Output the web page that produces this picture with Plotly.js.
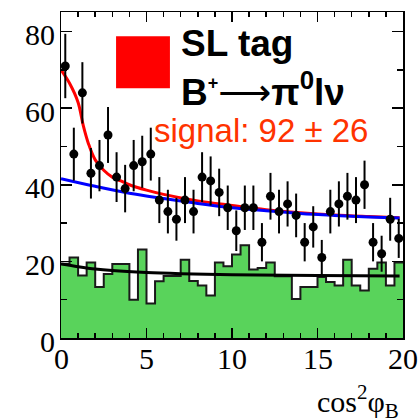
<!DOCTYPE html>
<html>
<head>
<meta charset="utf-8">
<script src="https://cdn.plot.ly/plotly-3.0.1.min.js"></script>
<style>
html,body{margin:0;padding:0;background:#fff;}
#chart{width:419px;height:420px;}
</style>
</head>
<body>
<div id="chart"></div>
<script>
// ---- data ----
const binWidth = 0.5;
const binCenters = [0.25,0.75,1.25,1.75,2.25,2.75,3.25,3.75,4.25,4.75,
                    5.25,5.75,6.25,6.75,7.25,7.75,8.25,8.75,9.25,9.75,
                    10.25,10.75,11.25,11.75,12.25,12.75,13.25,13.75,14.25,14.75,
                    15.25,15.75,16.25,16.75,17.25,17.75,18.25,18.75,19.25,19.75];
const dataCounts = [71,48,64,43,45,53,42,39,45,46,
                    48,36,33,31,36,33,42,41,38,34,
                    28,34,34,25,37,33,35,32,25,29,
                    21,33,35,37,36,40,25,22,31,26];
const dataErrors = [8.4,6.9,8.0,6.6,6.7,7.3,6.5,6.2,6.7,6.8,
                    6.9,6.0,5.7,5.6,6.0,5.7,6.5,6.4,6.2,5.8,
                    5.3,5.8,5.8,5.0,6.1,5.7,5.9,5.7,5.0,5.4,
                    4.6,5.7,5.9,6.1,6.0,6.3,5.0,4.7,5.6,5.1];
const bkgHist = [19.4,21.0,16.3,19.7,13.3,16.7,19.3,19.3,10.0,23.1,
                 9.0,14.8,16.2,16.2,20.4,14.9,13.7,11.1,19.7,18.7,
                 21.8,24.2,17.9,18.3,19.7,16.1,16.1,10.2,13.3,13.3,
                 15.9,14.6,13.7,20.4,13.7,12.4,18.1,19.7,13.7,19.7];
// fitted curves
const totalFitX = [0,0.5,1,1.3,1.6,2,2.5,3,3.5,4,5,6,8,10,12,14,16,18,19.8];
const totalFitY = [70,66.5,61.5,55.5,50.8,46.5,43.8,42.0,41.0,40.0,38.6,37.5,35.8,34.6,33.5,32.7,32.1,31.7,31.4];
const bkgFitX = [0,2,4,6,8,10,12,14,16,18,19.8];
const bkgFitY = [41.6,39.6,37.8,36.4,35.1,34.0,33.2,32.5,32.0,31.6,31.3];
const sideFitX = [0,1,2,3,5,7,10,15,19.8];
const sideFitY = [19.3,18.6,18.0,17.6,17.1,16.8,16.5,16.3,16.2];
const xTicks = [0,5,10,15,20];
const yTicks = [0,20,40,60,80];

// ---- traces ----
const stepX = binCenters.map(c => c - binWidth/2).concat([binCenters[binCenters.length-1] + binWidth/2]);
const stepY = bkgHist.concat([bkgHist[bkgHist.length-1]]);

const traces = [
  {x: stepX, y: stepY, type:'scatter', mode:'lines',
   line:{shape:'hv', color:'#1a1a1a', width:2},
   fill:'tozeroy', fillcolor:'#59d35b', hoverinfo:'skip'},
  {x: sideFitX, y: sideFitY, type:'scatter', mode:'lines',
   line:{color:'#000', width:3, shape:'spline'}},
  {x: totalFitX, y: totalFitY, type:'scatter', mode:'lines',
   line:{color:'#ff0000', width:3, shape:'spline'}},
  {x: bkgFitX, y: bkgFitY, type:'scatter', mode:'lines',
   line:{color:'#0000ff', width:3, shape:'spline'}},
  {x: binCenters, y: dataCounts, type:'scatter', mode:'markers',
   marker:{color:'#000', size:9, symbol:'circle'},
   error_y:{type:'data', array: dataErrors, visible:true, color:'#000', thickness:2, width:0}}
];

const serif = 'Liberation Serif';
const sans = 'Liberation Sans';
const labelFont = {family:serif, size:30, color:'#000'};

// tick labels as text placed at the axis positions
const xLabelAnn = xTicks.map(v => ({xref:'x', yref:'paper', x:v, y:0, xanchor:'center', yanchor:'top',
  yshift:-2, showarrow:false, text:String(v), font:labelFont}));
const yLabelAnn = yTicks.map(v => ({xref:'paper', yref:'y', x:0, y:v, xanchor:'right', yanchor:'middle',
  xshift:-4, yshift:-3, showarrow:false, text:String(v), font:labelFont}));

const layout = {
  width:419, height:420,
  margin:{l:61, r:16, t:12, b:82, pad:0},
  font:{family:serif, size:30, color:'#000'},
  paper_bgcolor:'#fff', plot_bgcolor:'#fff',
  showlegend:false,
  xaxis:{range:[0,20], tickvals:xTicks, showticklabels:false,
         showgrid:false, zeroline:false, showline:true, linecolor:'#000', linewidth:1.5,
         mirror:'ticks', ticks:'inside', ticklen:10, tickwidth:1.5, tickcolor:'#000',
         minor:{dtick:1, ticks:'inside', ticklen:5, tickwidth:1.5, tickcolor:'#000', showgrid:false},
         fixedrange:true},
  yaxis:{range:[0,85.1], tickvals:yTicks, showticklabels:false,
         showgrid:false, zeroline:false, showline:true, linecolor:'#000', linewidth:1.5,
         mirror:'ticks', ticks:'inside', ticklen:11, tickwidth:1.5, tickcolor:'#000',
         minor:{dtick:10, ticks:'inside', ticklen:6, tickwidth:1.5, tickcolor:'#000', showgrid:false},
         fixedrange:true},
  shapes:[
    {type:'rect', xref:'x', yref:'y', x0:3.22, x1:6.37, y0:65.2, y1:78.8,
     fillcolor:'#ff0000', line:{width:0}, layer:'above'}
  ],
  annotations:[
    {xref:'paper', yref:'paper', x:0.345, y:0.902, xanchor:'left', yanchor:'middle', showarrow:false,
     text:'<b>SL tag</b>', font:{family:sans, size:37, color:'#000'}},
    {xref:'paper', yref:'paper', x:0.345, y:0.761, xanchor:'left', yanchor:'middle', showarrow:false,
     text:'<b>B<sup><span style="font-size:18px">+</span></sup><span style="font-family:DejaVu Sans;font-weight:normal">⟶</span>π<sup>0</sup>lν</b>',
     font:{family:sans, size:37, color:'#000'}},
    {xref:'paper', yref:'paper', x:0.265, y:0.638, xanchor:'left', yanchor:'middle', showarrow:false,
     text:'signal: 92 ± 26', font:{family:sans, size:33, color:'#ff3300'}},
    {xref:'paper', yref:'paper', x:0.995, y:-0.195, xanchor:'right', yanchor:'middle', showarrow:false,
     text:'cos<sup>2</sup>φ<sub>B</sub>', font:{family:serif, size:30, color:'#000'}}
  ].concat(xLabelAnn, yLabelAnn)
};

Plotly.newPlot('chart', traces, layout, {staticPlot:true, displayModeBar:false});
</script>
</body>
</html>
